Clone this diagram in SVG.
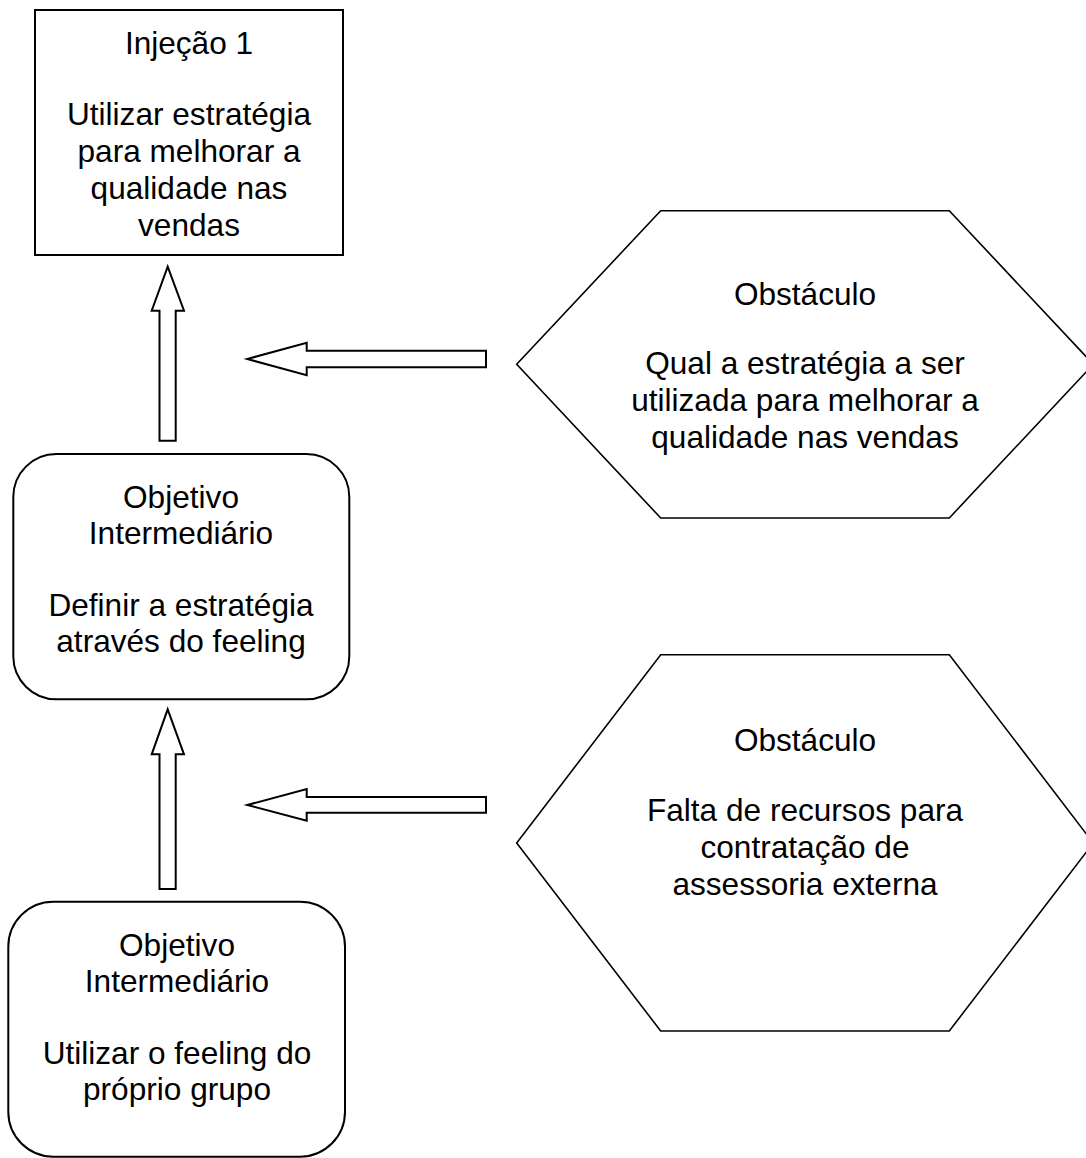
<svg xmlns="http://www.w3.org/2000/svg" width="1086" height="1158" viewBox="0 0 1086 1158">
  <style>
    .box { fill: #ffffff; stroke: #000000; stroke-width: 2; }
    .hex { fill: #ffffff; stroke: #000000; stroke-width: 1.6; stroke-linejoin: miter; }
    .arrow { fill: #ffffff; stroke: #000000; stroke-width: 2; stroke-linejoin: miter; }
    .label { font-family: "Liberation Sans", Arial, Helvetica, sans-serif; font-size: 31.6px; fill: #000000; text-anchor: middle; }
  </style>
  <rect width="1086" height="1158" fill="#ffffff"/>

  <!-- block arrows -->
  <g id="connectors">
    <polygon class="arrow" points="167.7,266.7 184,310.7 175.7,310.7 175.7,440.7 159.5,440.7 159.5,310.7 151.7,310.7"/>
    <polygon class="arrow" points="247.3,359 306.7,342.7 306.7,350.7 486,350.7 486,367.3 306.7,367.3 306.7,375.3"/>
    <polygon class="arrow" points="167.7,709.3 184,754.3 175.7,754.3 175.7,889 159.5,889 159.5,754.3 151.7,754.3"/>
    <polygon class="arrow" points="247.3,805 306.7,789 306.7,797 486,797 486,812.7 306.7,812.7 306.7,820.7"/>
  </g>

  <!-- injection -->
  <g id="injecao1">
    <rect class="box" x="35" y="10" width="308" height="245"/>
    <text class="label" x="189" y="54">Injeção 1</text>
    <text class="label" x="189" y="125">Utilizar estratégia</text>
    <text class="label" x="189" y="162">para melhorar a</text>
    <text class="label" x="189" y="199">qualidade nas</text>
    <text class="label" x="189" y="236">vendas</text>
  </g>

  <!-- first obstacle -->
  <g id="obstaculo1">
    <polygon class="hex" points="660.7,210.7 949.3,210.7 1093.3,364.3 949.3,518 660.7,518 516.7,364.3"/>
    <text class="label" x="805" y="305">Obstáculo</text>
    <text class="label" x="805" y="374">Qual a estratégia a ser</text>
    <text class="label" x="805" y="411">utilizada para melhorar a</text>
    <text class="label" x="805" y="448">qualidade nas vendas</text>
  </g>

  <!-- first intermediate objective -->
  <g id="objetivo1">
    <rect class="box" x="13.3" y="454" width="336" height="245.3" rx="43" ry="43"/>
    <text class="label" x="181" y="508">Objetivo</text>
    <text class="label" x="181" y="544">Intermediário</text>
    <text class="label" x="181" y="616">Definir a estratégia</text>
    <text class="label" x="181" y="652">através do feeling</text>
  </g>

  <!-- second obstacle -->
  <g id="obstaculo2">
    <polygon class="hex" points="660.7,654.7 949.3,654.7 1093.3,843 949.3,1031 660.7,1031 516.7,843"/>
    <text class="label" x="805" y="751">Obstáculo</text>
    <text class="label" x="805" y="821">Falta de recursos para</text>
    <text class="label" x="805" y="858">contratação de</text>
    <text class="label" x="805" y="895">assessoria externa</text>
  </g>

  <!-- second intermediate objective -->
  <g id="objetivo2">
    <rect class="box" x="8.3" y="901.7" width="336.7" height="255" rx="45" ry="45"/>
    <text class="label" x="177" y="956">Objetivo</text>
    <text class="label" x="177" y="992">Intermediário</text>
    <text class="label" x="177" y="1064">Utilizar o feeling do</text>
    <text class="label" x="177" y="1100">próprio grupo</text>
  </g>
</svg>
